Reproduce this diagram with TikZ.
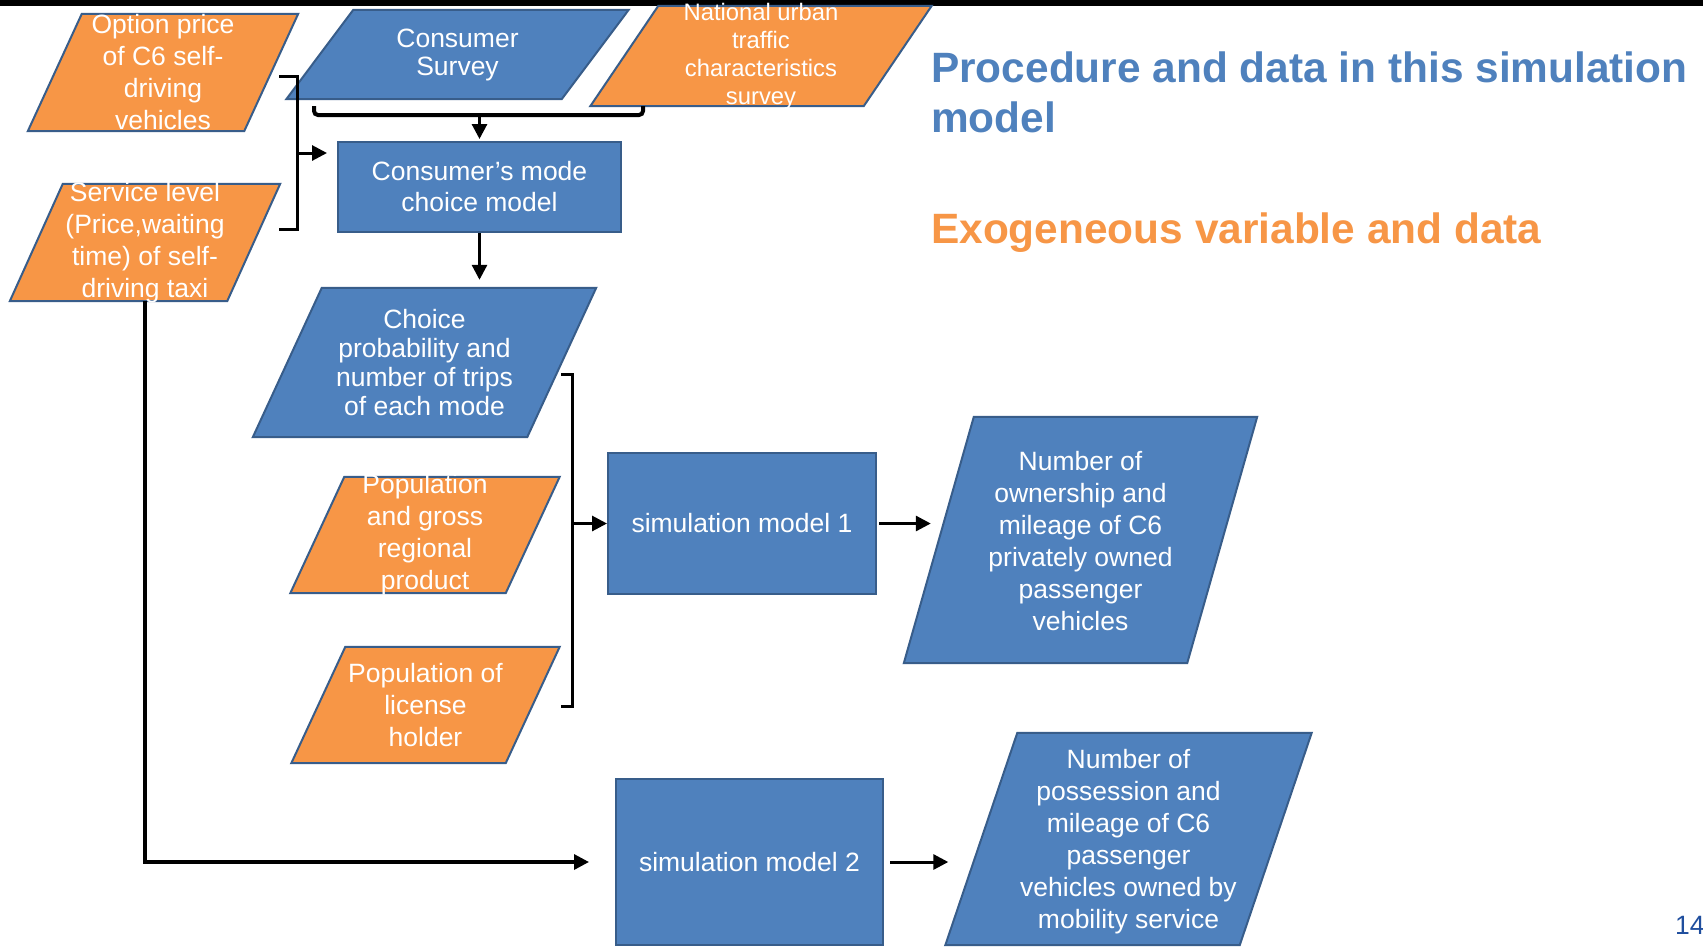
\documentclass[tikz,border=0pt]{standalone}
\usepackage{fontspec}
\setmainfont{Liberation Sans}
\usetikzlibrary{arrows.meta}

\definecolor{procblue}{RGB}{79,129,189}
\definecolor{exoorange}{RGB}{247,150,70}
\definecolor{shapeedge}{RGB}{56,93,138}
\definecolor{pagenum}{RGB}{31,78,158}

\tikzset{
  procbox/.style={rectangle, draw=shapeedge, line width=2pt, fill=procblue, inner sep=0pt},
  lbl/.style={text=white, align=center, inner sep=0pt, font=\fontsize{26.5}{32}\selectfont},
  conn/.style={line width=3pt},
  arr/.style={line width=3pt, -{Triangle[length=15pt,width=15pt]}},
}

\begin{document}
\begin{tikzpicture}[x=1pt,y=-1pt]
\useasboundingbox (0,0) rectangle (1703,946);
\fill[white] (0,0) rectangle (1703,946);
\fill[black] (0,0) rectangle (1703,6);

% data shapes: name/x/y/side/height/offset/colour
\foreach \n/\x/\y/\s/\h/\e/\c in {opt/163/72.5/216/117/54/exoorange,
    svc/145/242.5/217/117/53/exoorange, natl/761/56/273/100/68/exoorange,
    popgdp/425/535/215/116/54/exoorange, poplic/425.5/705/214/116/54/exoorange,
    survey/457.5/54.5/275/89/67/procblue, choice/424.5/362.5/274/149/69/procblue,
    own/1080.5/540/283/246/70/procblue, poss/1128.5/839/294/212/72/procblue}{
  \node[inner sep=0pt, minimum width=\s pt, minimum height=\h pt] (\n) at (\x,\y) {};
  \filldraw[fill=\c, draw=shapeedge, line width=2pt]
    ([xshift=0.5*\e]\n.north west) -- ([xshift=0.5*\e]\n.north east)
    -- ([xshift=-0.5*\e]\n.south east) -- ([xshift=-0.5*\e]\n.south west) -- cycle;
}

% models
\node[procbox, minimum width=283pt, minimum height=90pt] (cmode) at (479.5,187) {};
\node[procbox, minimum width=268pt, minimum height=141pt] (sim1) at (742,523.5) {};
\node[procbox, minimum width=267pt, minimum height=166pt] (sim2) at (749.5,862) {};

% texts
\node[lbl] (optT) at (opt) {Option price\\of C6 self-\\driving\\vehicles};
\node[lbl] (svcT) at (svc) {Service level\\(Price,waiting\\time) of self-\\driving taxi};
\node[lbl, font=\fontsize{26.5}{28}\selectfont] (surveyT) at (survey) {Consumer\\Survey};
\node[lbl, font=\fontsize{23.8}{28}\selectfont] (natlT) at (natl) {National urban\\traffic\\characteristics\\survey};
\node[lbl, font=\fontsize{26.5}{31}\selectfont] (cmodeT) at (cmode) {Consumer’s mode\\choice model};
\node[lbl, font=\fontsize{26.5}{29}\selectfont] (choiceT) at (choice) {Choice\\probability and\\number of trips\\of each mode};
\node[lbl] (popgdpT) at (popgdp) {Population\\and gross\\regional\\product};
\node[lbl] (poplicT) at (poplic) {Population of\\license\\holder};
\node[lbl] (sim1T) at (sim1) {simulation model 1};
\node[lbl] (sim2T) at (sim2) {simulation model 2};
\node[lbl] (ownT) at ([yshift=-1.5pt]own) {Number of\\ownership and\\mileage of C6\\privately owned\\passenger\\vehicles};
\node[lbl] (possT) at ([yshift=-3pt]poss) {Number of\\possession and\\mileage of C6\\passenger\\vehicles owned by\\mobility service};

% headings
\node[anchor=north west, inner sep=0pt, align=left, text=procblue, font=\fontsize{42.4}{50}\selectfont\bfseries] (title) at (931,52) {Procedure and data in this simulation\\model};
\node[anchor=base west, inner sep=0pt, text=exoorange, font=\fontsize{42.4}{50}\selectfont\bfseries] (exolbl) at (931,243) {Exogeneous variable and data};
\node[anchor=base west, inner sep=0pt, text=pagenum, font=\fontsize{26.5}{32}\selectfont] (pg) at (1675,934) {14};

% connectors
\coordinate (lb1) at (279,76);
\coordinate (lb2) at (279,229);
\coordinate (lbm) at (297,153);
\draw[conn] (lb1) -- (297,76) -- (297,229) -- (lb2);
\draw[arr, shorten >=10pt] (lbm) -- (lbm -| cmode.west);

\coordinate (tb1) at (314,106);
\coordinate (tb2) at (643,106);
\coordinate (tbm) at (479.5,115);
\draw[conn, line width=4pt, rounded corners=4pt] (tb1) -- (314,115) -- (643,115) -- (tb2);
\draw[arr, shorten >=2pt] (tbm) -- (cmode);

\draw[arr, shorten >=8pt] (cmode.south) -- (cmode.south |- choice.north);

\coordinate (rb1) at (561,374);
\coordinate (rb2) at (561,706);
\coordinate (rbm) at (572,523.5);
\draw[conn] (rb1) -- (572,374) -- (572,706) -- (rb2);
\draw[arr] (rbm) -- (sim1);

\draw[arr, shorten <=2pt, shorten >=8pt] (sim1.east) -- (sim1.east -| own.west);
\draw[arr, shorten <=6pt, shorten >=33pt] (sim2.east) -- (sim2.east -| poss.west);
\draw[arr, line width=3.3pt, shorten >=26pt] (svc.south) |- (sim2.west);
\end{tikzpicture}
\end{document}
